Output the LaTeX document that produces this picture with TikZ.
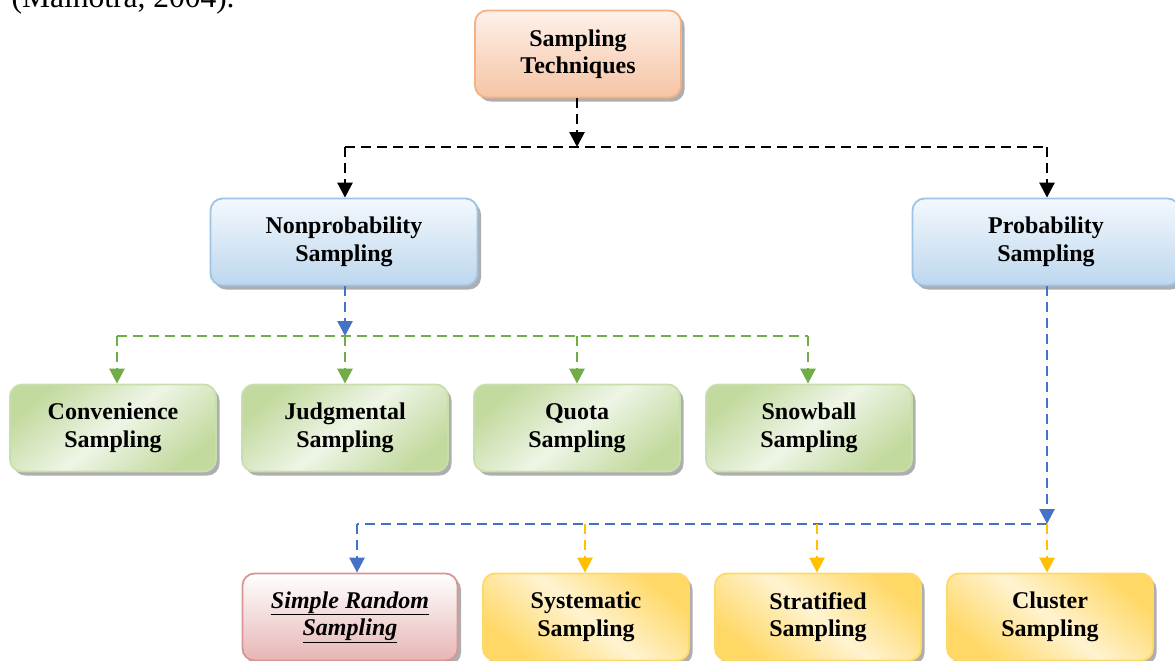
\documentclass[tikz,border=0pt]{standalone}
\usepackage{fontspec}
\setmainfont{Liberation Serif}
\usetikzlibrary{arrows.meta,shadows,calc}
\definecolor{orB}{HTML}{F4B183}
\definecolor{orT}{HTML}{FDF1EA}
\definecolor{orD}{HTML}{F6C4A4}
\definecolor{blB}{HTML}{9DC3E6}
\definecolor{blT}{HTML}{F3F8FD}
\definecolor{blD}{HTML}{BDD7EE}
\definecolor{grB}{HTML}{C9DEAD}
\definecolor{grD}{HTML}{C3DA9F}
\definecolor{grL}{HTML}{EEF5E6}
\definecolor{rdB}{HTML}{D99694}
\definecolor{rdD}{HTML}{E6B6B5}
\definecolor{ylB}{HTML}{FFD966}
\definecolor{ylD}{HTML}{FFD866}
\definecolor{ylL}{HTML}{FFF3D1}
\definecolor{cBlue}{HTML}{4472C4}
\definecolor{cGreen}{HTML}{70AD47}
\definecolor{cYellow}{HTML}{FFC000}
\tikzset{
  box/.style={rectangle, rounded corners=12pt, line width=1.8pt, align=center,
    minimum width=206pt, minimum height=87pt,
    font=\bfseries\fontsize{24}{27.5}\selectfont,
    drop shadow={shadow xshift=3.5pt, shadow yshift=-4pt, fill=black!45, opacity=0.7}},
  orbox/.style={box, draw=orB, top color=orT, bottom color=orD},
  blbox/.style={box, draw=blB, top color=blT, bottom color=blD, minimum width=267pt},
  grbox/.style={box, draw=grB, top color=grD, bottom color=grD, middle color=grL, shading angle=40},
  rdbox/.style={box, draw=rdB, top color=white, bottom color=rdD, minimum width=215pt},
  ylbox/.style={box, draw=ylB, top color=ylD, bottom color=ylD, middle color=ylL, shading angle=-40},
  conn/.style={line width=2.7pt, dash pattern=on 10pt off 6pt},
  arr/.style={conn, -{Triangle[width=15pt,length=15pt]}},
}
\begin{document}
\begin{tikzpicture}[x=1pt,y=-1pt]
\useasboundingbox (0,0) rectangle (1175,661);
\clip (0,0) rectangle (1175,661);
\fill[white] (0,0) rectangle (1175,661);
\node[anchor=base west, font=\fontsize{31.5}{36}\selectfont] (cite) at (8,8) {(Malhotra, 2004).};

\node[orbox] (st) at (578,54) {Sampling\\Techniques};
\node[blbox] (np) at (344,242) {Nonprobability\\Sampling};
\node[blbox] (pr) at (1046,242) {Probability\\Sampling};

\node[grbox] (cv) at (113,428) {Convenience\\Sampling};
\node[grbox] (jd) at (345,428) {Judgmental\\Sampling};
\node[grbox] (qt) at (577,428) {Quota\\Sampling};
\node[grbox] (sb) at (809,428) {Snowball\\Sampling};

\node[rdbox, font=\bfseries\itshape\fontsize{24}{27.5}\selectfont] (sr) at (350,617) {\underline{Simple Random}\\\underline{Sampling}};
\node[ylbox] (sy) at (586,617) {Systematic\\Sampling};
\node[ylbox] (sf) at (818,617) {Stratified\\Sampling};
\node[ylbox] (cl) at (1050,617) {Cluster\\Sampling};

% black connectors
\coordinate (j0) at (577,147);
\draw[arr, black] (st.south -| j0) -- (j0);
\draw[conn, black] (345,147) -- (1047,147);
\draw[arr, black] (345,147) -- (np.north -| 345,0);
\draw[arr, black] (1047,147) -- (pr.north -| 1047,0);

% nonprobability branch
\coordinate (j1) at (345,336);
\draw[conn, cGreen] (117,336) -- (808,336);
\draw[arr, cBlue] (np.south -| j1) -- (j1);
\draw[arr, cGreen] (117,336) -- (cv.north -| 117,0);
\draw[arr, cGreen] (345,336) -- (jd.north -| 345,0);
\draw[arr, cGreen] (577,336) -- (qt.north -| 577,0);
\draw[arr, cGreen] (808,336) -- (sb.north -| 808,0);

% probability branch
\coordinate (j2) at (1047,524);
\draw[arr, cBlue] (pr.south -| j2) -- (j2);
\draw[conn, cBlue] (j2) -- (357,524);
\draw[arr, cBlue] (357,524) -- (sr.north -| 357,0);
\draw[arr, cYellow] (585,524) -- (sy.north -| 585,0);
\draw[arr, cYellow] (817,524) -- (sf.north -| 817,0);
\draw[arr, cYellow] (1047,524) -- (cl.north -| 1047,0);
\end{tikzpicture}
\end{document}
